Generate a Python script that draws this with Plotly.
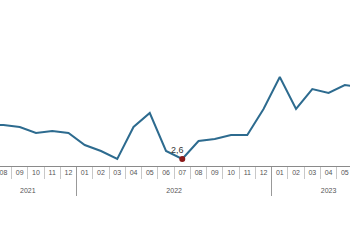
import plotly.graph_objects as go

years = ["2021"] * 6 + ["2022"] * 12 + ["2023"] * 7
months = ["07", "08", "09", "10", "11", "12",
          "01", "02", "03", "04", "05", "06", "07", "08", "09", "10", "11", "12",
          "01", "02", "03", "04", "05", "06", "07"]
values = [4.3, 4.3, 4.2, 3.9, 4.0, 3.9,
          3.3, 3.0, 2.6, 4.2, 4.9, 3.0, 2.6, 3.5, 3.6, 3.8, 3.8, 5.1,
          6.7, 5.1, 6.1, 5.9, 6.3, 6.2, 6.2]
highlight_index = 12
highlight_label = "2,6"

idx = list(range(len(values)))
# month boundaries and year groups derived from the category arrays
month_bounds = [i - 0.5 for i in idx] + [idx[-1] + 0.5]
year_names = []
year_pos = []
year_bounds = []
for i, y in enumerate(years):
    if not year_names or year_names[-1] != y:
        if year_names:
            year_bounds.append(i - 0.5)
        year_names.append(y)
        year_pos.append([i])
    else:
        year_pos[-1].append(i)
year_centers = [(p[0] + p[-1]) / 2 for p in year_pos]

xr = [0.785, 22.32]
label_font = dict(family="Liberation Sans, Arial", size=7, color="#555555")

fig = go.Figure()
fig.add_trace(go.Scatter(
    x=idx, y=values, mode="lines",
    line=dict(color="#2d6b8f", width=2), hoverinfo="skip", showlegend=False,
))
fig.add_trace(go.Scatter(
    x=[idx[highlight_index]], y=[values[highlight_index]], mode="markers",
    marker=dict(color="#8b1a1a", size=6), hoverinfo="skip", showlegend=False,
))
# invisible helper traces so the overlaying tick axes are drawn
for ax_name, xs in (("x2", month_bounds), ("x3", year_bounds), ("x4", year_centers)):
    fig.add_trace(go.Scatter(
        x=xs, y=[None] * len(xs), xaxis=ax_name, yaxis="y", mode="lines",
        hoverinfo="skip", showlegend=False,
    ))
fig.add_annotation(
    x=idx[highlight_index], y=values[highlight_index], text=highlight_label,
    showarrow=False, xshift=-5, yshift=9,
    font=dict(family="Liberation Sans, Arial", size=9, color="#333333"),
)

common = dict(range=xr, showgrid=False, zeroline=False, anchor="y")
fig.update_layout(
    width=350, height=250,
    margin=dict(l=0, r=0, t=10, b=84),
    paper_bgcolor="white", plot_bgcolor="white",
    font=label_font,
    xaxis=dict(**common, tickmode="array", tickvals=idx, ticktext=months,
               ticks="", showline=True, linecolor="#8a8a8a", linewidth=1,
               tickangle=0, tickfont=label_font, ticklabelstandoff=0,
               ticklabeloverflow="allow"),
    xaxis2=dict(**common, overlaying="x", side="bottom", tickmode="array",
                tickvals=month_bounds, ticktext=[""] * len(month_bounds),
                ticks="outside", ticklen=12, tickcolor="#c8c8c8", tickwidth=1),
    xaxis3=dict(**common, overlaying="x", side="bottom", tickmode="array",
                tickvals=year_bounds, ticktext=[""] * len(year_bounds),
                ticks="outside", ticklen=29, tickcolor="#999999", tickwidth=1),
    xaxis4=dict(**common, overlaying="x", side="bottom", tickmode="array",
                tickvals=year_centers, ticktext=year_names,
                ticks="outside", ticklen=18, tickcolor="rgba(0,0,0,0)",
                tickangle=0, tickfont=label_font, ticklabeloverflow="allow"),
    yaxis=dict(range=[2.25, 10.05], visible=False, showgrid=False, zeroline=False),
)
fig.write_html("out.html")
